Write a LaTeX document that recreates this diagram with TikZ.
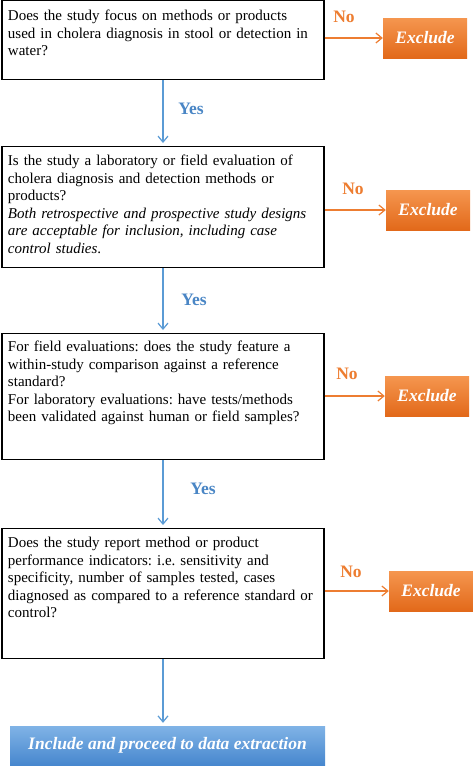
\documentclass[tikz,border=0pt]{standalone}
\usepackage{fontspec}
\setmainfont{Liberation Serif}
\usepackage{xcolor}
\usepackage{tikz}
\usetikzlibrary{arrows.meta,positioning}
\definecolor{exorange}{HTML}{ED7D31}
\definecolor{exlight}{HTML}{F5964F}
\definecolor{exdark}{HTML}{E2691A}
\definecolor{inblue}{HTML}{5B9BD5}
\definecolor{inlight}{HTML}{80B3E6}
\definecolor{indark}{HTML}{4787CE}
\definecolor{yesblue}{HTML}{4A86C5}
\frenchspacing

\begin{document}
\begin{tikzpicture}[x=1pt,y=-1pt,
  qbox/.style={draw,line width=1.3pt,anchor=north,text width=310pt,inner xsep=6pt,inner ysep=0pt,align=left,font=\fontsize{15}{17.5}\selectfont},
  excl/.style={top color=exlight,bottom color=exdark,minimum width=84pt,minimum height=40pt,text=white,font=\fontsize{17.5}{20}\selectfont\bfseries\itshape},
  incl/.style={excl,top color=inlight,bottom color=indark,minimum width=315pt,minimum height=39pt},
  nolbl/.style={text=exorange,font=\fontsize{17.5}{20}\selectfont\bfseries},
  yeslbl/.style={nolbl,text=yesblue},
  noarr/.style={-{Straight Barb[length=6pt,width=10pt]},line width=1.2pt,draw=exorange},
  yesarr/.style={noarr,draw=inblue,shorten >=3pt}]
  \useasboundingbox (0,0) rectangle (473,766);
  \node[qbox,text height=20pt,text depth=59pt] (q1) at (163,0) {Does the study focus on methods or products\\ used in cholera diagnosis in stool or detection in\\ water?};
  \node[qbox,text height=19pt,text depth=102pt] (q2) at (163,146) {Is the study a laboratory or field evaluation of\\ cholera diagnosis and detection methods or\\ products?\\ \textit{Both retrospective and prospective study designs}\\ \textit{are acceptable for inclusion, including case}\\ \textit{control studies}.};
  \node[qbox,text height=18pt,text depth=108pt] (q3) at (163,333) {For field evaluations: does the study feature a\\ within-study comparison against a reference\\ standard?\\ For laboratory evaluations: have tests/methods\\ been validated against human or field samples?};
  \node[qbox,text height=19pt,text depth=111pt] (q4) at (163,528) {Does the study report method or product\\ performance indicators: i.e. sensitivity and\\ specificity, number of samples tested, cases\\ diagnosed as compared to a reference standard or\\ control?};
  \node[excl] (ex1) at (425,38) {Exclude};
  \node[excl] (ex2) at (428,210) {Exclude};
  \node[excl] (ex3) at (427,396) {Exclude};
  \node[excl] (ex4) at (431,591) {Exclude};
  \node[incl] (inc) at (167.5,745.5) {Include and proceed to data extraction};
  \node[nolbl] (no1) at (344,17) {No};
  \node[nolbl] (no2) at (353,189) {No};
  \node[nolbl] (no3) at (347,374) {No};
  \node[nolbl] (no4) at (351,572) {No};
  \node[yeslbl] (yes1) at (191,109) {Yes};
  \node[yeslbl] (yes2) at (194,300) {Yes};
  \node[yeslbl] (yes3) at (203,489) {Yes};
  \draw[noarr] (q1.east |- ex1.west) -- (ex1.west);
  \draw[noarr] (q2.east |- ex2.west) -- (ex2.west);
  \draw[noarr] (q3.east |- ex3.west) -- (ex3.west);
  \draw[noarr] (q4.east |- ex4.west) -- (ex4.west);
  \draw[yesarr] (q1.south) -- (q2.north);
  \draw[yesarr] (q2.south) -- (q3.north);
  \draw[yesarr] (q3.south) -- (q4.north);
  \draw[yesarr] (q4.south) -- (inc.north -| q4.south);
\end{tikzpicture}
\end{document}
